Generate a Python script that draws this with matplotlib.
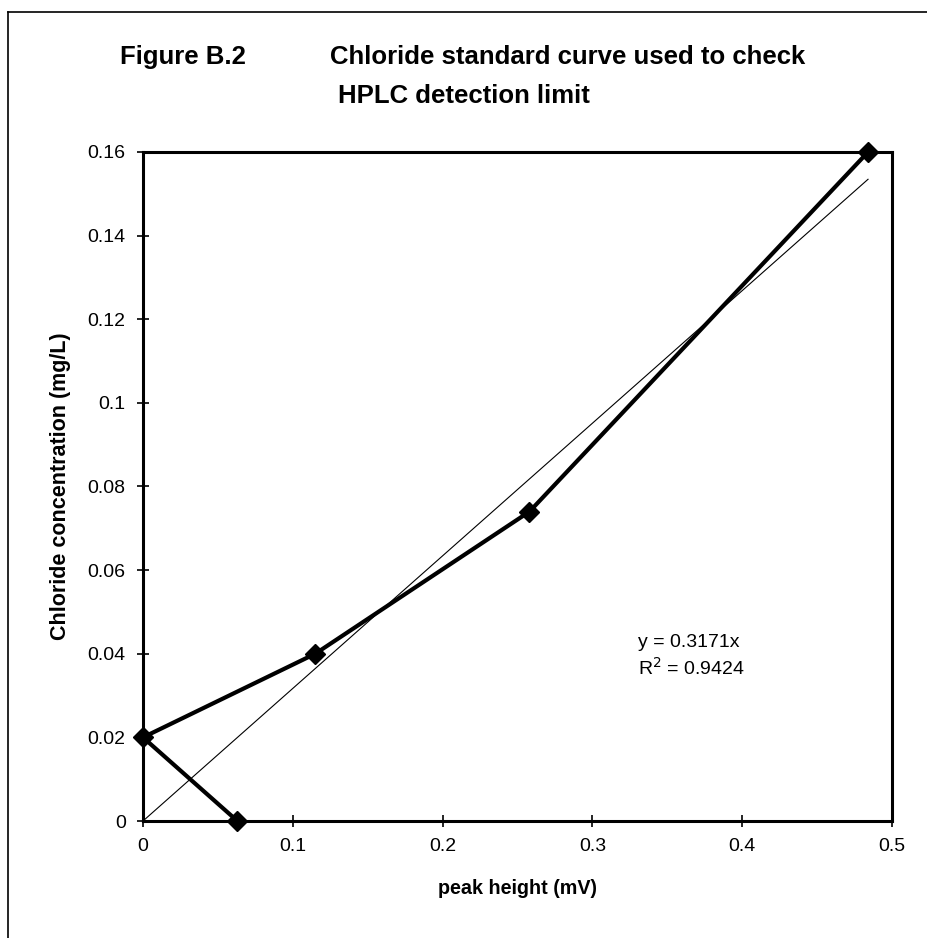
import matplotlib
matplotlib.use("Agg")
import matplotlib.pyplot as plt
from matplotlib.lines import Line2D

plt.rcParams['font.family'] = ['Liberation Sans', 'DejaVu Sans']

# Chloride standards: peak height (mV) vs concentration (mg/L)
peak_height = [0.063, 0.0, 0.115, 0.258, 0.484]
concentration = [0.0, 0.02, 0.04, 0.074, 0.16]

# Linear trendline forced through the origin
slope = 0.3171
r_squared = 0.9424

x_ticks = [0, 0.1, 0.2, 0.3, 0.4, 0.5]
x_tick_labels = ["0", "0.1", "0.2", "0.3", "0.4", "0.5"]
y_ticks = [0, 0.02, 0.04, 0.06, 0.08, 0.1, 0.12, 0.14, 0.16]
y_tick_labels = ["0", "0.02", "0.04", "0.06", "0.08", "0.1", "0.12", "0.14", "0.16"]

W, H = 927, 938
fig = plt.figure(figsize=(W / 100, H / 100), dpi=100)
fig.patch.set_facecolor("white")

# page frame (top and left edges visible)
fig.add_artist(Line2D([8 / W, 8 / W], [0, 1 - 12 / H], transform=fig.transFigure,
                      color="black", lw=1.2))
fig.add_artist(Line2D([8 / W, 1], [1 - 12 / H, 1 - 12 / H], transform=fig.transFigure,
                      color="black", lw=1.2))

left, right = 143 / W, 892 / W
bottom, top = 1 - 821 / H, 1 - 152 / H
ax = fig.add_axes([left, bottom, right - left, top - bottom])

xmax = max(peak_height)
ax.plot([0, xmax], [0, slope * xmax], color="black", lw=0.8, zorder=2)
ax.plot(peak_height, concentration, color="black", lw=3.0, marker="D",
        markersize=10.5, zorder=3, clip_on=False)

ax.set_xlim(0, 0.5)
ax.set_ylim(0, 0.16)
ax.set_xticks(x_ticks)
ax.set_xticklabels(x_tick_labels)
ax.set_yticks(y_ticks)
ax.set_yticklabels(y_tick_labels)
for s in ax.spines.values():
    s.set_linewidth(2.2)
ax.tick_params(direction="inout", length=9, width=1.2, labelsize=14, pad=8)

ax.set_xlabel("peak height (mV)", fontsize=14.2, fontweight="bold", labelpad=17)
ax.set_ylabel("Chloride concentration (mg/L)", fontsize=15.5, fontweight="bold", labelpad=12)

ax.text(638 / W, 1 - 642 / H, f"y = {slope}x", transform=fig.transFigure,
        fontsize=14, ha="left", va="center")
ax.text(638 / W, 1 - 668 / H, f"R$^2$ = {r_squared}", transform=fig.transFigure,
        fontsize=14, ha="left", va="center")

fig.text(120 / W, 1 - 57 / H, "Figure B.2", fontsize=18.5, fontweight="bold",
         ha="left", va="center")
fig.text(330 / W, 1 - 57 / H, "Chloride standard curve used to check",
         fontsize=18.5, fontweight="bold", ha="left", va="center")
fig.text(338 / W, 1 - 96 / H, "HPLC detection limit",
         fontsize=18.5, fontweight="bold", ha="left", va="center")

fig.savefig("out.png", dpi=100, facecolor="white")
